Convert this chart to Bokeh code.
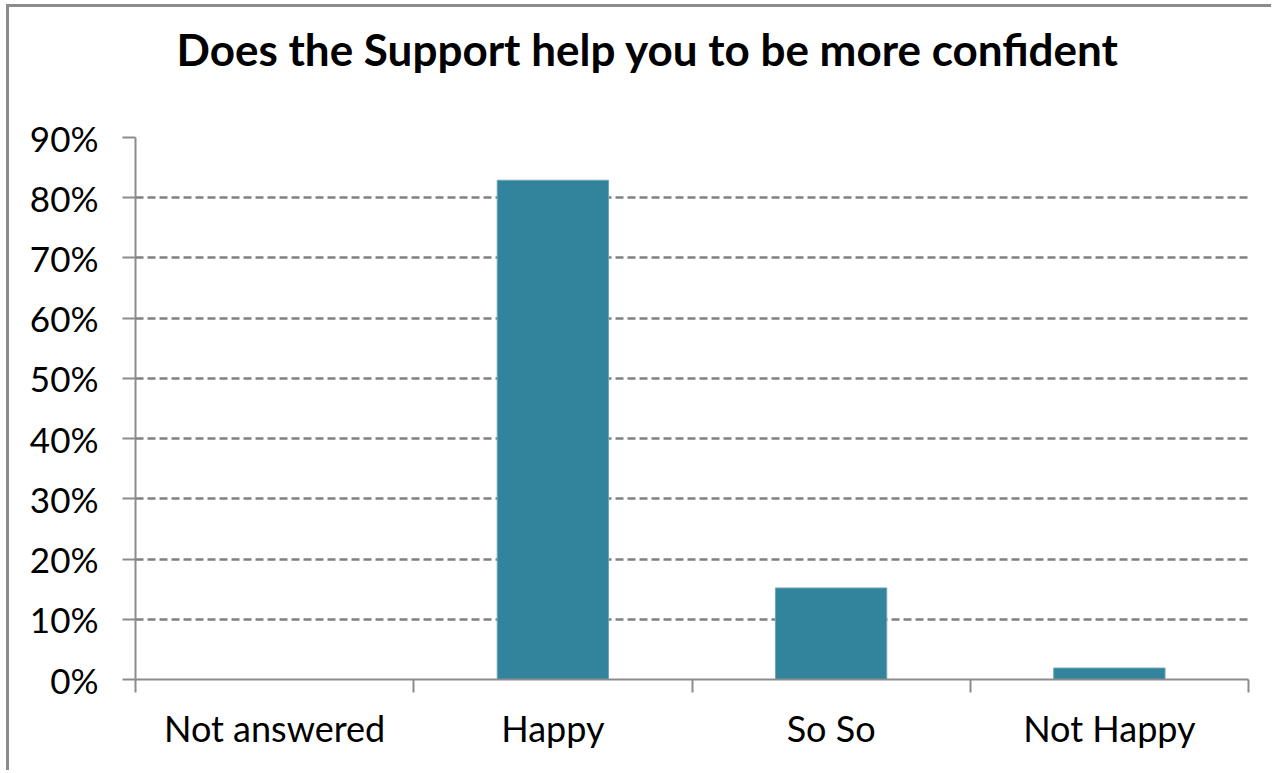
from bokeh.plotting import figure
from bokeh.models import FixedTicker, NumeralTickFormatter, Range1d
from bokeh.embed import file_html
from bokeh.resources import INLINE

title_text = "Does the Support help you to be more confident"
categories = ["Not answered", "Happy", "So So", "Not Happy"]
shares = [0.0, 0.829, 0.152, 0.019]
y_ticks = [0.0, 0.1, 0.2, 0.3, 0.4, 0.5, 0.6, 0.7, 0.8, 0.9]

FONT = "Lato"
GRAY = "#8c8c8c"
W, H = 1265, 766

n = len(categories)
centers = [i + 0.5 for i in range(n)]
bounds = [float(i) for i in range(n + 1)]

p = figure(width=W, height=H, output_backend="svg", toolbar_location=None,
           x_range=Range1d(0, n), y_range=Range1d(0, y_ticks[-1]),
           min_border_left=126, min_border_right=26,
           min_border_top=130, min_border_bottom=94)
p.styles = {"margin-left": "6px", "margin-top": "4px",
            "border-left": "3px solid " + GRAY, "border-top": "3px solid " + GRAY}
p.outline_line_color = None
p.background_fill_color = "white"
p.border_fill_color = "white"

# a blank second line lifts the title line higher above the plot frame
p.title.text = title_text + "\n "
p.title.align = "left"
p.title.offset = 41
p.title.standoff = 0
p.title.text_line_height = 1.2
p.title.text_font = FONT
p.title.text_font_style = "bold"
p.title.text_font_size = "44px"
p.title.text_color = "black"

p.vbar(x=centers, top=shares, width=0.4, bottom=0,
       fill_color="#31849B", line_color="#6fa6b7", line_width=1)

# x axis: labels at category centres, tick marks at category boundaries
xa = p.xaxis[0]
xa.ticker = FixedTicker(ticks=centers, minor_ticks=bounds)
xa.major_label_overrides = {c: lab for c, lab in zip(centers, categories)}
xa.major_tick_out = 0
xa.major_tick_in = 0
xa.minor_tick_out = 13
xa.minor_tick_in = 0
xa.minor_tick_line_color = GRAY
xa.minor_tick_line_width = 2
xa.axis_line_color = GRAY
xa.axis_line_width = 2
xa.major_label_text_font = FONT
xa.major_label_text_font_size = "36px"
xa.major_label_text_color = "black"
xa.major_label_standoff = 13

ya = p.yaxis[0]
ya.ticker = FixedTicker(ticks=y_ticks)
ya.formatter = NumeralTickFormatter(format="0%")
ya.major_tick_out = 13
ya.major_tick_in = 0
ya.minor_tick_line_color = None
ya.major_tick_line_color = GRAY
ya.major_tick_line_width = 2
ya.axis_line_color = GRAY
ya.axis_line_width = 2
ya.major_label_text_font = FONT
ya.major_label_text_font_size = "35px"
ya.major_label_text_color = "black"
ya.major_label_standoff = 24

p.xgrid.visible = False
p.ygrid.grid_line_color = "#808080"
p.ygrid.grid_line_width = 2.5
p.ygrid.grid_line_dash = "8 4"

open("out.html", "w").write(file_html(p, INLINE))
